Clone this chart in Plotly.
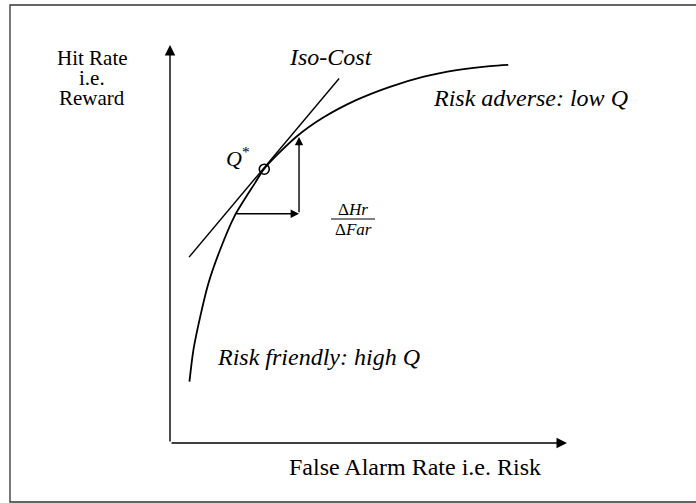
import plotly.graph_objects as go

# ---------------- data (chart units: origin = axes corner, 1 = arrow tips) ----------------
curve_x = [0.049, 0.059, 0.076, 0.097, 0.126, 0.162, 0.214, 0.238, 0.319, 0.385,
           0.470, 0.554, 0.637, 0.722, 0.806, 0.852]
curve_y = [0.154, 0.234, 0.317, 0.402, 0.485, 0.569, 0.653, 0.690, 0.770, 0.817,
           0.862, 0.895, 0.920, 0.937, 0.947, 0.950]

tangent_x = [0.048, 0.426]
tangent_y = [0.467, 0.916]

q_star_x = [0.2375]
q_star_y = [0.688]

delta_far_x = [0.164, 0.325]   # horizontal step (tail, head)
delta_far_y = [0.576, 0.576]
delta_hr_x = [0.325, 0.325]    # vertical step (tail, head)
delta_hr_y = [0.576, 0.769]

axis_origin = [0.0, 0.0]
x_axis_end = [1.0, 0.0]
y_axis_end = [0.0, 1.0]

y_title_lines = ["Hit Rate", "i.e.", "Reward"]
x_title = "False Alarm Rate i.e. Risk"
iso_label = "Iso-Cost"
adverse_label = "Risk adverse: low Q"
friendly_label = "Risk friendly: high Q"
q_label = "Q"
frac_num = ["Δ", "Hr"]
frac_den = ["Δ", "Far"]

# ---------------- layout geometry ----------------
W, H = 696, 503
L, R_, T, B = 170, 567, 45, 443   # pixel positions of chart area
PW, PH = R_ - L, B - T


def px(xp):
    return (xp - L) / PW


def py(yp):
    return (B - yp) / PH


FONT = "Liberation Serif"
INK = "#000000"

fig = go.Figure()

fig.add_trace(go.Scatter(x=curve_x, y=curve_y, mode="lines",
                         line=dict(color=INK, width=1.8, shape="spline", smoothing=0.8),
                         hoverinfo="skip", showlegend=False))
fig.add_trace(go.Scatter(x=tangent_x, y=tangent_y, mode="lines",
                         line=dict(color=INK, width=1.4),
                         hoverinfo="skip", showlegend=False))
fig.add_trace(go.Scatter(x=q_star_x, y=q_star_y, mode="markers",
                         marker=dict(symbol="circle-open", size=10, color=INK,
                                     line=dict(width=1.6, color=INK)),
                         hoverinfo="skip", showlegend=False))

annotations = []


def arrow(tail_x, tail_y, head_x, head_y, size, width):
    annotations.append(dict(x=head_x, y=head_y, ax=tail_x, ay=tail_y,
                            xref="x", yref="y", axref="x", ayref="y",
                            showarrow=True, arrowhead=2, arrowsize=size,
                            arrowwidth=width, arrowcolor=INK, standoff=0,
                            startstandoff=0, text=""))


arrow(axis_origin[0], axis_origin[1], x_axis_end[0], x_axis_end[1], 1.5, 1.4)
arrow(axis_origin[0], axis_origin[1], y_axis_end[0], y_axis_end[1], 1.5, 1.4)
arrow(delta_far_x[0], delta_far_y[0], delta_far_x[1], delta_far_y[1], 1.2, 1.4)
arrow(delta_hr_x[0], delta_hr_y[0], delta_hr_x[1], delta_hr_y[1], 1.2, 1.4)


def label(text, xp, yp, size=21, xanchor="center"):
    annotations.append(dict(x=px(xp), y=py(yp), xref="paper", yref="paper",
                            text=text, showarrow=False, xanchor=xanchor, yanchor="middle",
                            font=dict(family=FONT, size=size, color=INK)))


for line_text, yp in zip(y_title_lines, [58, 78, 98]):
    label(line_text, 92, yp, size=21)
label(x_title, 415, 467, size=24)
label("<i>%s</i>" % iso_label, 331, 57, size=24)
label("<i>%s</i>" % adverse_label, 530, 98, size=24)
label("<i>%s</i>" % friendly_label, 318, 357, size=24)
label("<i>%s</i><sup>*</sup>" % q_label, 238, 157, size=22)
label("%s<i>%s</i>" % tuple(frac_num), 353, 209, size=17)
label("%s<i>%s</i>" % tuple(frac_den), 353, 229, size=17)

shapes = [
    # fraction bar
    dict(type="line", xref="paper", yref="paper", x0=px(331), x1=px(375),
         y0=py(219), y1=py(219), line=dict(color=INK, width=1)),
    # outer frame
    dict(type="rect", xref="paper", yref="paper", x0=px(10), x1=px(700),
         y0=py(502), y1=py(5), line=dict(color="#333333", width=1.3)),
]

fig.update_layout(
    width=W, height=H,
    margin=dict(l=L, r=W - R_, t=T, b=H - B, pad=0),
    paper_bgcolor="white", plot_bgcolor="white",
    xaxis=dict(range=[0, 1], visible=False, fixedrange=True),
    yaxis=dict(range=[0, 1], visible=False, fixedrange=True),
    annotations=annotations, shapes=shapes,
    showlegend=False,
)

fig.write_html("out.html", config={"displayModeBar": False},
               post_script="document.body.style.margin='0';")
